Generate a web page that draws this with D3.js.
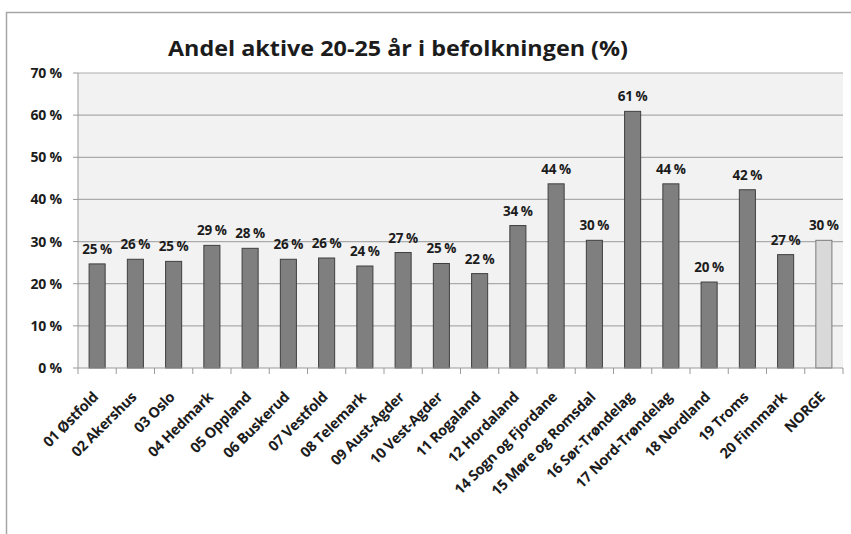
<!DOCTYPE html>
<html>
<head>
<meta charset="utf-8">
<script src="https://cdn.jsdelivr.net/npm/d3@7"></script>
<style>
  body { margin: 0; background: #fff; }
  svg text { font-family: "Open Sans", Lato, sans-serif; font-weight: bold; fill: #1c1c1c; }
</style>
</head>
<body>
<div id="chart"></div>
<script>
const width = 851;
const height = 534;

const counties = ['01 Østfold', '02 Akershus', '03 Oslo', '04 Hedmark', '05 Oppland', '06 Buskerud',
    '07 Vestfold', '08 Telemark', '09 Aust-Agder', '10 Vest-Agder', '11 Rogaland', '12 Hordaland',
    '14 Sogn og Fjordane', '15 Møre og Romsdal', '16 Sør-Trøndelag', '17 Nord-Trøndelag',
    '18 Nordland', '19 Troms', '20 Finnmark', 'NORGE'];

const shares = [24.7, 25.8, 25.3, 29.1, 28.4, 25.8, 26.1, 24.2, 27.4, 24.8, 22.4, 33.8,
    43.7, 30.3, 60.9, 43.7, 20.4, 42.3, 26.9, 30.3];

const yTicks = [0, 10, 20, 30, 40, 50, 60, 70];

const plot = { left: 78, right: 843, top: 73, bottom: 368 };

const svg = d3.select('#chart').append('svg')
    .attr('width', width)
    .attr('height', height);

// outer chart frame (only top and left edges visible)
svg.append('path')
    .attr('d', `M6.5,${height} L6.5,12.5 L${width},12.5`)
    .attr('fill', 'none')
    .attr('stroke', '#a6a6a6')
    .attr('stroke-width', 1.5);

const xScale = d3.scaleBand()
    .domain(counties)
    .range([plot.left, plot.right])
    .paddingInner(0.58)
    .paddingOuter(0.29);

const yScale = d3.scaleLinear()
    .domain([0, 70])
    .range([plot.bottom, plot.top]);

svg.append('rect')
    .attr('x', plot.left)
    .attr('y', plot.top)
    .attr('width', plot.right - plot.left)
    .attr('height', plot.bottom - plot.top)
    .attr('fill', '#f2f2f2');

// gridlines
svg.selectAll('.grid')
    .data(yTicks.filter(d => d > 0))
    .join('line')
    .attr('class', 'grid')
    .attr('x1', plot.left)
    .attr('x2', plot.right)
    .attr('y1', d => yScale(d))
    .attr('y2', d => yScale(d))
    .attr('stroke', '#ababab')
    .attr('stroke-width', 1.2);

// y axis
svg.append('line')
    .attr('x1', plot.left).attr('x2', plot.left)
    .attr('y1', plot.top).attr('y2', plot.bottom)
    .attr('stroke', '#9a9a9a');

svg.selectAll('.y-tick')
    .data(yTicks)
    .join('line')
    .attr('class', 'y-tick')
    .attr('x1', plot.left - 5).attr('x2', plot.left)
    .attr('y1', d => yScale(d)).attr('y2', d => yScale(d))
    .attr('stroke', '#9a9a9a');

svg.selectAll('.y-label')
    .data(yTicks)
    .join('text')
    .attr('class', 'y-label')
    .attr('x', 62)
    .attr('y', d => yScale(d))
    .attr('dy', '0.36em')
    .attr('text-anchor', 'end')
    .attr('font-size', '14px')
    .attr('letter-spacing', '-0.2px')
    .text(d => `${d} %`);

// bars
svg.selectAll('.bar')
    .data(shares)
    .join('rect')
    .attr('class', 'bar')
    .attr('x', (d, i) => xScale(counties[i]))
    .attr('y', d => yScale(d))
    .attr('width', xScale.bandwidth())
    .attr('height', d => yScale(0) - yScale(d))
    .attr('fill', (d, i) => counties[i] == 'NORGE' ? '#d9d9d9' : '#7f7f7f')
    .attr('stroke', (d, i) => counties[i] == 'NORGE' ? '#7a7a7a' : '#3f3f3f')
    .attr('stroke-width', 1);

// x axis
svg.append('line')
    .attr('x1', plot.left).attr('x2', plot.right)
    .attr('y1', plot.bottom).attr('y2', plot.bottom)
    .attr('stroke', '#9a9a9a')
    .attr('stroke-width', 1.2);

const step = xScale.step();
svg.selectAll('.x-tick')
    .data(d3.range(counties.length + 1))
    .join('line')
    .attr('class', 'x-tick')
    .attr('x1', i => plot.left + i * step)
    .attr('x2', i => plot.left + i * step)
    .attr('y1', plot.bottom)
    .attr('y2', plot.bottom + 6)
    .attr('stroke', '#9a9a9a');

// value labels
svg.selectAll('.value-label')
    .data(shares)
    .join('text')
    .attr('class', 'value-label')
    .attr('x', (d, i) => xScale(counties[i]) + xScale.bandwidth() / 2)
    .attr('y', d => yScale(d) - 10)
    .attr('text-anchor', 'middle')
    .attr('font-size', '13.5px')
    .attr('letter-spacing', '-0.4px')
    .text(d => `${Math.round(d)} %`);

// category labels
svg.selectAll('.x-label')
    .data(counties)
    .join('text')
    .attr('class', 'x-label')
    .attr('transform', d => `translate(${xScale(d) + xScale.bandwidth() / 2 + 2},${plot.bottom + 30}) rotate(-45)`)
    .attr('text-anchor', 'end')
    .attr('font-size', '14.5px')
    .attr('letter-spacing', '-0.3px')
    .text(d => d);

// title
svg.append('text')
    .attr('x', 398)
    .attr('y', 56)
    .attr('text-anchor', 'middle')
    .attr('font-size', '22px')
    .attr('textLength', 460)
    .attr('lengthAdjust', 'spacingAndGlyphs')
    .text('Andel aktive 20-25 år i befolkningen (%)');
</script>
</body>
</html>
